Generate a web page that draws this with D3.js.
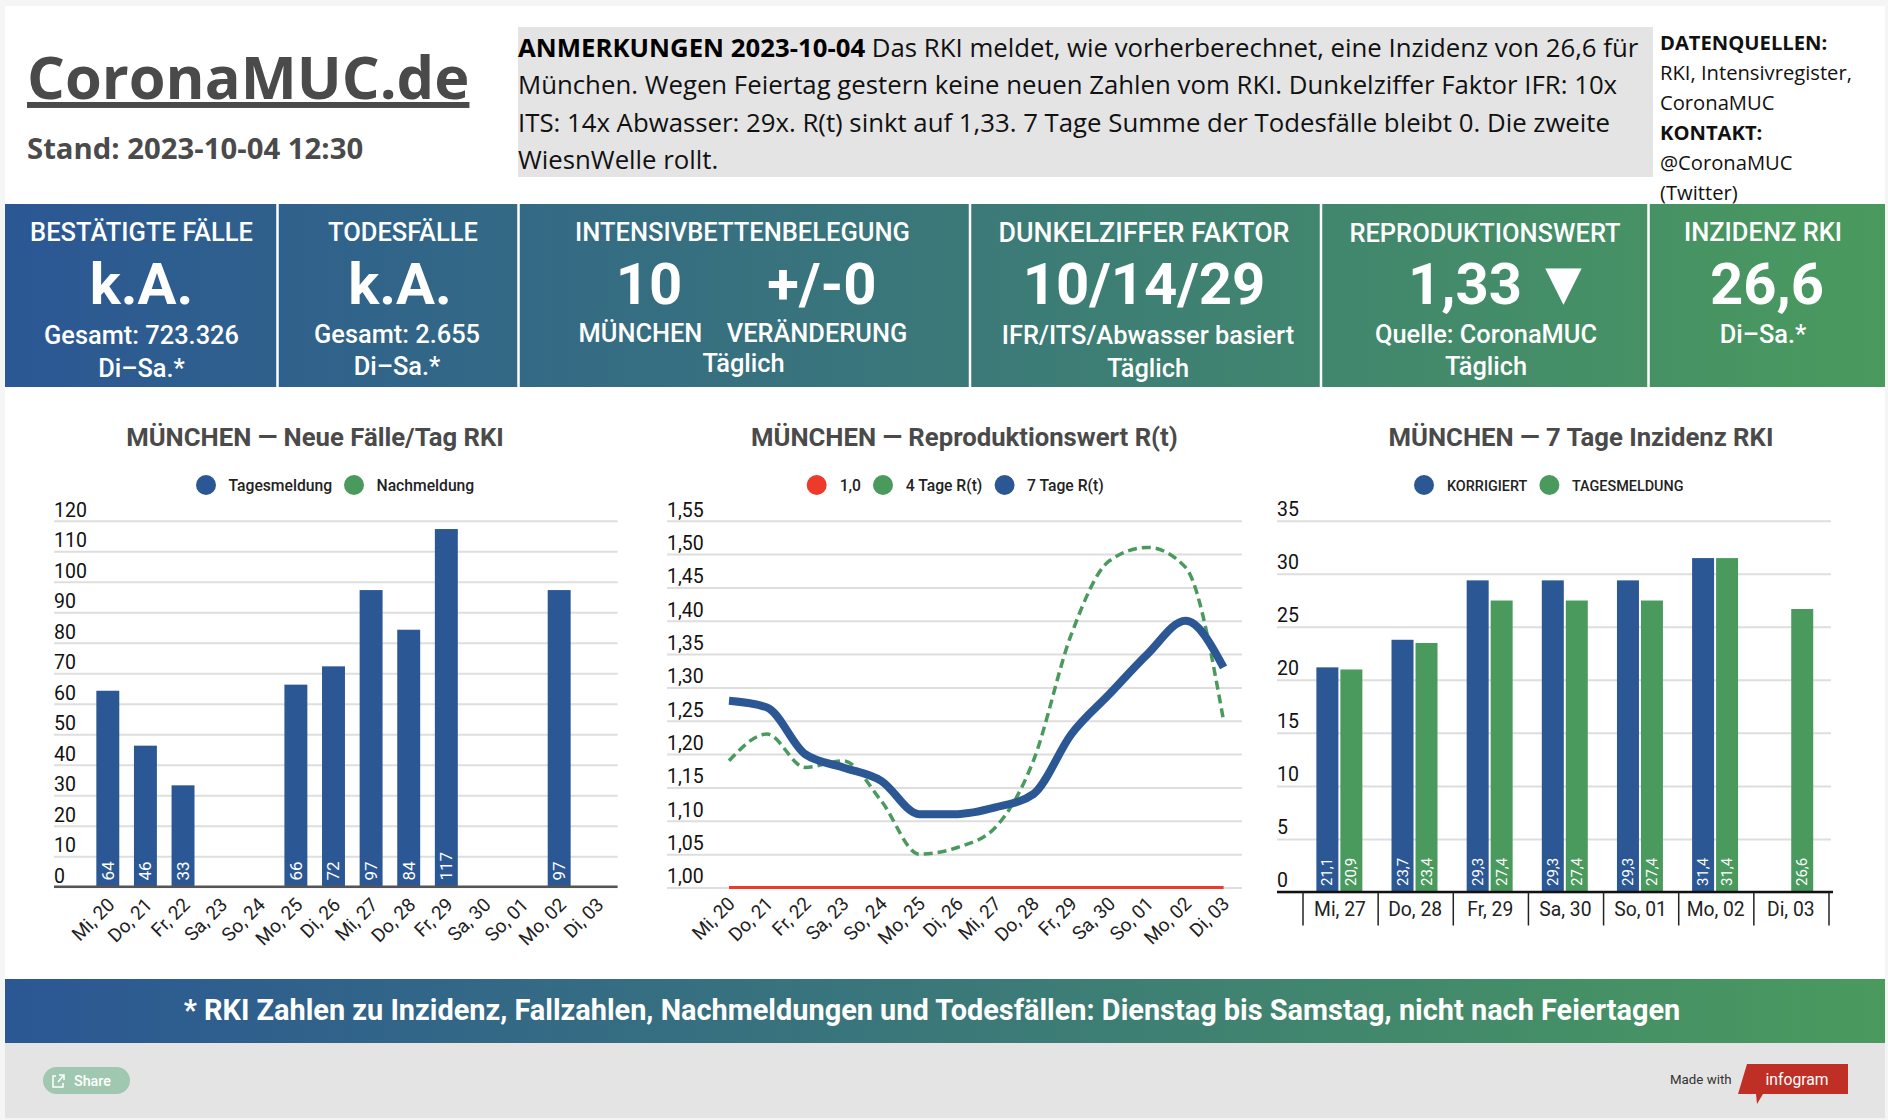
<!DOCTYPE html>
<html><head><meta charset="utf-8">
<script src="https://cdn.jsdelivr.net/npm/d3@7/dist/d3.min.js"></script>
<style>
html,body{margin:0;padding:0;background:#f5f5f5;overflow:hidden}
svg{display:block}
.r{font-family:Roboto,sans-serif}
.o{font-family:"Open Sans",sans-serif}
.domain{display:none}
</style></head><body><svg id="c" width="1888" height="1120"></svg>
<script>
// --- data ---
const days14 = ["Mi, 20","Do, 21","Fr, 22","Sa, 23","So, 24","Mo, 25","Di, 26","Mi, 27","Do, 28","Fr, 29","Sa, 30","So, 01","Mo, 02","Di, 03"];
const casesTages = [64,46,33,null,null,66,72,97,84,117,null,null,97,null];
const casesTicks = [0,10,20,30,40,50,60,70,80,90,100,110,120];
const rt7 = [1.28,1.27,1.20,1.18,1.16,1.11,1.11,1.12,1.14,1.23,1.29,1.35,1.40,1.33];
const rt4 = [1.19,1.23,1.18,1.19,1.13,1.05,1.06,1.09,1.19,1.38,1.49,1.51,1.48,1.25];
const rtOne = [1,1,1,1,1,1,1,1,1,1,1,1,1,1];
const rtTicks = [1,1.05,1.10,1.15,1.20,1.25,1.30,1.35,1.40,1.45,1.50,1.55];
const days7 = ["Mi, 27","Do, 28","Fr, 29","Sa, 30","So, 01","Mo, 02","Di, 03"];
const incKorr = [21.1,23.7,29.3,29.3,29.3,31.4,null];
const incTages = [20.9,23.4,27.4,27.4,27.4,31.4,26.6];
const incTicks = [0,5,10,15,20,25,30,35];
const BLUE="#2b5794", GREEN="#4a9a5e", RED="#ee3a2b", INK="#4a4a4a";
const comma = v => String(v).replace(".",",");

const svg = d3.select("#c");
const defs = svg.append("defs");
function grad(id){
  const g=defs.append("linearGradient").attr("id",id).attr("gradientUnits","userSpaceOnUse")
    .attr("x1",5).attr("x2",1885).attr("y1",0).attr("y2",0);
  g.append("stop").attr("offset",0).attr("stop-color",BLUE);
  g.append("stop").attr("offset",1).attr("stop-color",GREEN);
}
grad("g1");

function T(sel,x,y,txt,o={}){
  return sel.append("text").attr("x",x).attr("y",y).text(txt)
    .attr("class",o.cls||"r").attr("text-anchor",o.a||"start")
    .attr("font-size",o.s||20).attr("font-weight",o.w||400).attr("fill",o.f||"#000");
}

// --- card ---
svg.append("rect").attr("x",5).attr("y",6).attr("width",1880).attr("height",973).attr("fill","#fff");

// --- header ---
T(svg,27,99,"CoronaMUC.de",{cls:"o",s:59.5,w:700,f:INK}).style("text-decoration","underline");
T(svg,27,158.5,"Stand: 2023-10-04 12:30",{cls:"o",s:29.3,w:700,f:INK});
svg.append("rect").attr("x",518).attr("y",27).attr("width",1135).attr("height",150).attr("fill","#e4e4e4");
const notes=["Das RKI meldet, wie vorherberechnet, eine Inzidenz von 26,6 für",
 "München. Wegen Feiertag gestern keine neuen Zahlen vom RKI. Dunkelziffer Faktor IFR: 10x",
 "ITS: 14x Abwasser: 29x. R(t) sinkt auf 1,33. 7 Tage Summe der Todesfälle bleibt 0. Die zweite",
 "WiesnWelle rollt."];
const n0=T(svg,518,56.5,"",{cls:"o",s:25.77,f:"#111"});
n0.append("tspan").attr("font-weight",700).attr("fill","#000").text("ANMERKUNGEN 2023-10-04 ");
n0.append("tspan").text(notes[0]);
[93.5,132,169].forEach((y,i)=>T(svg,518,y,notes[i+1],{cls:"o",s:25.77,f:"#111"}));
[["DATENQUELLEN:",700,50],["RKI, Intensivregister,",400,80],["CoronaMUC",400,110],["KONTAKT:",700,140],["@CoronaMUC",400,170],["(Twitter)",400,200]]
 .forEach(d=>T(svg,1660,d[2],d[0],{cls:"o",s:20.2,w:d[1],f:"#111"}));

// --- KPI band ---
svg.append("rect").attr("x",5).attr("y",204).attr("width",1880).attr("height",183).attr("fill","url(#g1)");
[277.5,518.5,970,1321,1648.5].forEach(x=>svg.append("rect").attr("x",x-1.25).attr("y",204).attr("width",2.5).attr("height",183).attr("fill","#fff"));
const TS=25.5, SS=25.4, VS=58;
const kpi=[
 [141.5,240.5,"BESTÄTIGTE FÄLLE",TS,500],[141.5,304,"k.A.",VS,700],[141.5,344,"Gesamt: 723.326",SS,500],[141.5,377,"Di–Sa.*",SS,500],
 [403,240.5,"TODESFÄLLE",TS,500],[400,304,"k.A.",VS,700],[397,342.5,"Gesamt: 2.655",SS,500],[397,375,"Di–Sa.*",SS,500],
 [742.5,240.5,"INTENSIVBETTENBELEGUNG",TS,500],[649,304,"10",VS,700],[822,304,"+/-0",VS,700],[640.5,342,"MÜNCHEN",SS,500],[817,342,"VERÄNDERUNG",SS,500],[743.5,372,"Täglich",SS,500],
 [1144,242,"DUNKELZIFFER FAKTOR",26.8,500],[1144,304,"10/14/29",VS,700],[1148,344,"IFR/ITS/Abwasser basiert",SS,500],[1148,377,"Täglich",SS,500],
 [1485,242,"REPRODUKTIONSWERT",TS,500],[1465,304,"1,33",VS,700],[1486,342.5,"Quelle: CoronaMUC",SS,500],[1486,375,"Täglich",SS,500],
 [1763,240.5,"INZIDENZ RKI",TS,500],[1767,304,"26,6",VS,700],[1763,342.5,"Di–Sa.*",SS,500]
];
kpi.forEach(d=>T(svg,d[0],d[1],d[2],{a:"middle",s:d[3],w:d[4],f:"#fff"}));
T(svg,1563.5,304,"▼",{a:"middle",s:62,w:700,f:"#fff"});

// --- chart helpers ---
function title(cx,t){T(svg,cx,445.5,t,{a:"middle",s:25.7,w:700,f:INK});}
function legend(items){items.forEach(d=>{
  svg.append("circle").attr("cx",d[0]).attr("cy",485).attr("r",10).attr("fill",d[3]);
  T(svg,d[1],490.5,d[2],{s:d[4]||15.7,w:500,f:"#222"});
});}
function yAxis(y,ticks,x0,x1,fmt,dy){
  const g=svg.append("g").attr("transform",`translate(${x0},0)`)
    .call(d3.axisLeft(y).tickValues(ticks).tickSize(-(x1-x0)).tickFormat(fmt));
  g.select(".domain").remove();
  g.selectAll("line").attr("stroke","#dedede").attr("stroke-width",2);
  g.selectAll("text").attr("class","r").attr("x",0).attr("dy",dy).attr("text-anchor","start")
    .attr("font-size",19.5).attr("fill","#111").attr("font-family","Roboto");
}
function xRot(scale,cats,yy,shift){
  const center=scale.bandwidth?scale.bandwidth()/2:0;
  cats.forEach(c=>{
    const x=scale(c)+center+shift;
    T(svg,0,0,c,{a:"end",s:19,f:"#222"}).attr("transform",`translate(${x},${yy}) rotate(-45)`);
  });
}
function barLabel(x,y0,t,s){
  T(svg,0,0,t,{a:"start",s:s,w:400,f:"#fff"}).attr("transform",`translate(${x},${y0}) rotate(-90)`).attr("dominant-baseline","central");
}

// --- chart 1 ---
title(315,"MÜNCHEN — Neue Fälle/Tag RKI");
legend([[206,228.5,"Tagesmeldung",BLUE],[354,376.5,"Nachmeldung",GREEN]]);
const x1=d3.scaleBand().domain(days14).range([89,615.6]).paddingInner(.39).paddingOuter(.195);
const y1=d3.scaleLinear().domain([0,120]).range([886.8,520.7]);
yAxis(y1,casesTicks,54,617.6,d=>d,"-0.24em");
svg.selectAll(null).data(days14.map((d,i)=>({d,v:casesTages[i]})).filter(d=>d.v!=null)).enter().append("rect")
  .attr("x",d=>x1(d.d)).attr("width",x1.bandwidth()).attr("y",d=>y1(d.v)-.8).attr("height",d=>y1(0)-y1(d.v)+.8).attr("fill",BLUE);
days14.forEach((d,i)=>{if(casesTages[i]!=null)barLabel(x1(d)+x1.bandwidth()/2,880.5,casesTages[i],17);});
svg.append("line").attr("x1",54).attr("x2",617.6).attr("y1",y1(0)).attr("y2",y1(0)).attr("stroke","#555").attr("stroke-width",2.5);
xRot(x1,days14,906,8);

// --- chart 2 ---
title(964.4,"MÜNCHEN — Reproduktionswert R(t)");
legend([[816.7,839.7,"1,0",RED],[883,905.7,"4 Tage R(t)",GREEN],[1004.6,1027,"7 Tage R(t)",BLUE]]);
const x2=d3.scalePoint().domain(days14).range([729,1223.6]);
const y2=d3.scaleLinear().domain([1,1.55]).range([887.5,520.7]);
yAxis(y2,rtTicks,667,1242,d=>d3.format(".2f")(d).replace(".",","),"-0.24em");
const ln=d3.line().x((d,i)=>x2(days14[i])).y(d=>y2(d)).curve(d3.curveMonotoneX);
svg.append("path").attr("d",ln(rtOne)).attr("fill","none").attr("stroke",RED).attr("stroke-width",3);
svg.append("path").attr("d",ln(rt4)).attr("fill","none").attr("stroke",GREEN).attr("stroke-width",3.5).attr("stroke-dasharray","9,5");
svg.append("path").attr("d",ln(rt7)).attr("fill","none").attr("stroke",BLUE).attr("stroke-width",8);
xRot(x2,days14,905,7);

// --- chart 3 ---
title(1581,"MÜNCHEN — 7 Tage Inzidenz RKI");
legend([[1424,1447,"KORRIGIERT",BLUE,14.4],[1549.4,1572,"TAGESMELDUNG",GREEN,14.4]]);
const x3=d3.scaleBand().domain(days7).range([1303,1829]);
const x3i=d3.scaleBand().domain(["k","t"]).range([-1.2,x3.bandwidth()-1.2]).paddingInner(.083).paddingOuter(.608);
const y3=d3.scaleLinear().domain([0,35]).range([892,520.7]);
yAxis(y3,incTicks,1277,1831,d=>d,"-0.28em");
[["k",incKorr,BLUE],["t",incTages,GREEN]].forEach(([k,vals,col])=>{
  days7.forEach((d,i)=>{
    if(vals[i]==null)return;
    svg.append("rect").attr("x",x3(d)+x3i(k)).attr("width",x3i.bandwidth()).attr("y",y3(vals[i])-.8).attr("height",y3(0)-y3(vals[i])+.8).attr("fill",col);
    barLabel(x3(d)+x3i(k)+x3i.bandwidth()/2,886,comma(vals[i]),15);
  });
});
svg.append("line").attr("x1",1277).attr("x2",1833).attr("y1",y3(0)).attr("y2",y3(0)).attr("stroke","#111").attr("stroke-width",2.5);
days7.concat([null]).forEach((d,i)=>{
  const x=d?x3(d):x3.range()[1];
  svg.append("line").attr("x1",x).attr("x2",x).attr("y1",892).attr("y2",925.5).attr("stroke","#222").attr("stroke-width",1.5);
  if(d)T(svg,x+x3.bandwidth()/2-.6,916,d,{a:"middle",s:19.3,f:"#222"});
});

// --- footer ---
svg.append("rect").attr("x",5).attr("y",979).attr("width",1880).attr("height",64).attr("fill","url(#g1)");
T(svg,932,1020,"* RKI Zahlen zu Inzidenz, Fallzahlen, Nachmeldungen und Todesfällen: Dienstag bis Samstag, nicht nach Feiertagen",{a:"middle",s:28.9,w:700,f:"#fff"});
svg.append("rect").attr("x",5).attr("y",1043).attr("width",1880).attr("height",75).attr("fill","#e4e4e4");
svg.append("rect").attr("x",43).attr("y",1067).attr("width",87).attr("height",27).attr("rx",13.5).attr("fill","#a0c8b0");
T(svg,74,1085.5,"Share",{s:14.3,w:500,f:"#fff"});
svg.append("path").attr("d","M56 1076h-3v11h10v-4M58 1082l5-6M59 1075h5v5").attr("fill","none").attr("stroke","#fff").attr("stroke-width",1.5);
T(svg,1670,1084,"Made with",{s:13.3,w:400,f:"#333"});
svg.append("path").attr("d","M1747 1064H1848V1094H1763L1757 1104L1756 1094H1738Z").attr("fill","#c02f25");
T(svg,1797,1085,"infogram",{a:"middle",s:15.7,w:400,f:"#fff"});
</script></body></html>
